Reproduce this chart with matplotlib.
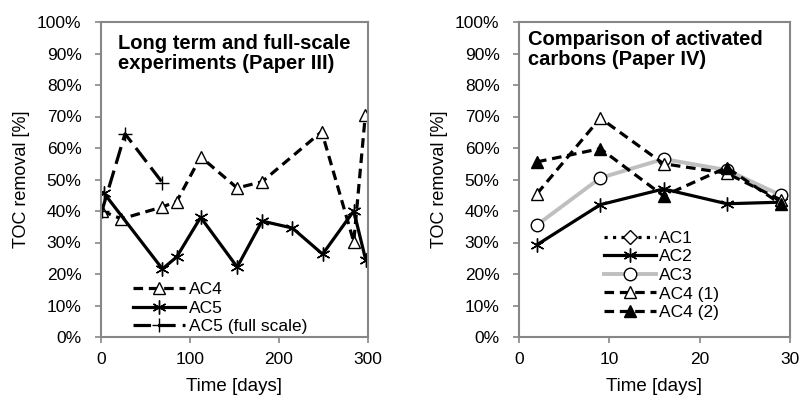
import matplotlib
matplotlib.use('Agg')
import matplotlib.pyplot as plt
from matplotlib.ticker import PercentFormatter

plt.rcParams['font.family'] = ['Liberation Sans', 'DejaVu Sans']

# left panel: long term and full-scale (Paper III)
ac4_days = [1, 23, 69, 85, 112, 153, 181, 248, 284, 297]
ac4_toc = [40, 37.5, 41.3, 43, 57.2, 47.3, 49.3, 65.2, 30.2, 70.5]
ac5_days = [3, 69, 85, 112, 153, 181, 215, 249, 284, 297.5]
ac5_toc = [45.8, 21.6, 25.4, 38, 22.2, 36.8, 34.6, 26.3, 40, 24.4]
full_days = [1, 27, 69]
full_toc = [40, 64.5, 49]

# right panel: comparison of activated carbons (Paper IV)
cmp_days = [2, 9, 16, 23, 29]
ac1_toc = []
ac2_toc = [29.3, 42, 47, 42.3, 42.8]
ac3_toc = [35.6, 50.5, 56.5, 53, 45]
ac4a_toc = [45.5, 69.5, 55, 52, 43.5]
ac4b_toc = [55.6, 59.8, 44.8, 53.8, 42.2]

grey = '#868686'
lw = 2.3
dash = (3, 1.8)
longdash = (5.5, 2.2)

fig = plt.figure(figsize=(8.03, 3.96), dpi=100)
ax1 = fig.add_axes([101/803, 1 - 337/396, 267/803, 315/396])
ax2 = fig.add_axes([519/803, 1 - 337/396, 271/803, 315/396])

ax1.plot(ac4_days, ac4_toc, color='black', lw=lw, dashes=dash, marker='^',
         ms=8, mfc='white', mec='black', mew=1, label='AC4')
ax1.plot(ac5_days, ac5_toc, color='black', lw=lw, marker=(6, 2, 0),
         ms=10, mec='black', mew=1, label='AC5')
ax1.plot(full_days, full_toc, color='black', lw=lw, dashes=longdash, marker='+',
         ms=10, mec='black', mew=1, label='AC5 (full scale)')
ax1.set_xlim(0, 300)
ax1.set_xticks([0, 100, 200, 300])
ax1.text(0.064, 0.962, 'Long term and full-scale\nexperiments (Paper III)',
         transform=ax1.transAxes, ha='left', va='top', fontsize=14.5,
         fontweight='bold', linespacing=1.1)
ax1.legend(loc='upper left', bbox_to_anchor=(0.12, 0.175), frameon=False,
           fontsize=12.5, handlelength=3.0, handletextpad=0.2,
           labelspacing=0.2, borderpad=0, borderaxespad=0)

ax2.plot(cmp_days[:len(ac1_toc)], ac1_toc, color='black', lw=lw, ls=':', marker='D',
         ms=7, mfc='white', mec='black', mew=1, label='AC1')
ax2.plot(cmp_days, ac2_toc, color='black', lw=lw, marker=(6, 2, 0),
         ms=10, mec='black', mew=1, label='AC2')
ax2.plot(cmp_days, ac3_toc, color='#bfbfbf', lw=lw + 0.5, marker='o',
         ms=9, mfc='white', mec='black', mew=1, label='AC3')
ax2.plot(cmp_days, ac4a_toc, color='black', lw=lw, dashes=dash, marker='^',
         ms=8, mfc='white', mec='black', mew=1, label='AC4 (1)')
ax2.plot(cmp_days, ac4b_toc, color='black', lw=lw, dashes=dash, marker='^',
         ms=8, mfc='black', mec='black', mew=1, label='AC4 (2)')
ax2.set_xlim(0, 30)
ax2.set_xticks([0, 10, 20, 30])
ax2.text(0.033, 0.975, 'Comparison of activated\ncarbons (Paper IV)',
         transform=ax2.transAxes, ha='left', va='top', fontsize=14.5,
         fontweight='bold', linespacing=1.1)
ax2.legend(loc='upper left', bbox_to_anchor=(0.312, 0.338), frameon=False,
           fontsize=12.5, handlelength=3.0, handletextpad=0.2,
           labelspacing=0.2, borderpad=0, borderaxespad=0)

for ax in (ax1, ax2):
    ax.set_ylim(0, 100)
    ax.set_yticks(range(0, 101, 10))
    ax.yaxis.set_major_formatter(PercentFormatter(decimals=0))
    ax.set_xlabel('Time [days]', fontsize=13.5, labelpad=8)
    ax.set_ylabel('TOC removal [%]', fontsize=13, labelpad=5)
    ax.tick_params(labelsize=12.5, color=grey, length=4, width=1.2)
    ax.tick_params(axis='y', pad=10)
    ax.tick_params(axis='x', pad=6.5)
    for s in ax.spines.values():
        s.set_color(grey)
        s.set_linewidth(1.5)

fig.savefig('out.png', dpi=100)
